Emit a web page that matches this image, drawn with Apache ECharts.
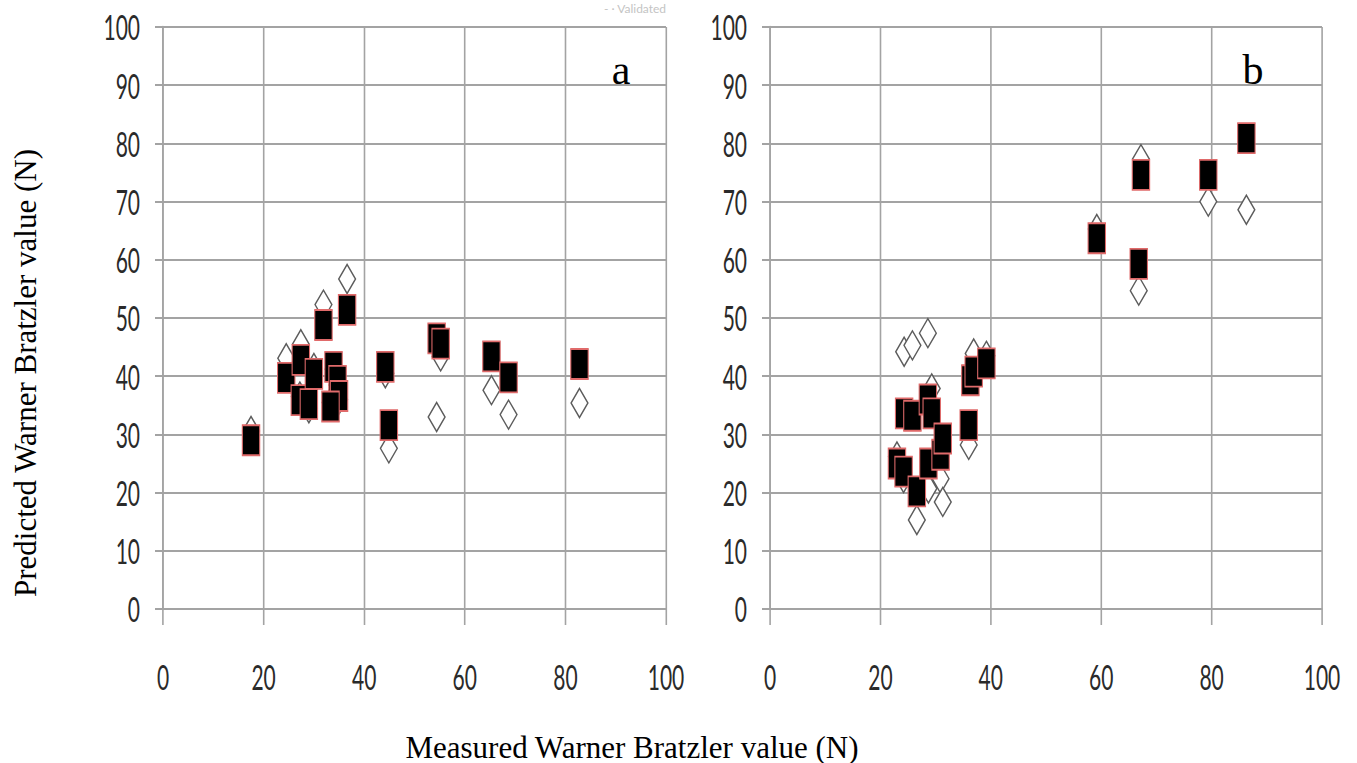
<!DOCTYPE html>
<html>
<head>
<meta charset="utf-8">
<title>Warner Bratzler shear force: measured vs predicted</title>
<script src="https://cdn.jsdelivr.net/npm/echarts@6/dist/echarts.min.js"></script>
<style>
  html, body { margin: 0; padding: 0; background: #fff; overflow: hidden; }
  #wrap { position: relative; width: 1357px; height: 763px; overflow: hidden; }
  #plots { position: absolute; left: 0; top: 0; height: 763px; transform-origin: 0 0; }
  #labels { position: absolute; left: 0; top: 0; width: 1357px; height: 763px; pointer-events: none; }
</style>
</head>
<body>
<div id="wrap">
  <div id="plots"></div>
  <div id="labels"></div>
</div>
<script>
// Panel a: measured WBS value and the two model predictions (N)
const measuredA   = [17.5, 24.5, 27.4, 27.2, 29.0, 30.0, 33.9, 34.7, 35.0, 33.3, 31.9, 36.6, 44.2, 44.9, 54.4, 55.2, 65.3, 68.7, 82.8];
const calibratedA = [29.0, 39.7, 42.8, 35.9, 35.2, 40.4, 41.6, 39.2, 36.6, 34.8, 48.8, 51.4, 41.6, 31.6, 46.5, 45.6, 43.4, 39.8, 42.1];
const validatedA  = [30.6, 43.1, 45.5, 36.5, 34.5, 41.4, 41.2, 38.5, 36.0, 35.5, 52.3, 56.7, 40.5, 27.6, 33.0, 43.4, 37.6, 33.4, 35.4];

// Panel b
const measuredB   = [23.0, 24.2, 24.3, 25.8, 26.6, 28.6, 29.3, 28.7, 30.9, 31.3, 36.0, 36.3, 36.9, 39.2, 59.2, 66.8, 67.2, 79.4, 86.3];
const calibratedB = [25.0, 23.6, 33.6, 33.2, 20.2, 36.0, 33.6, 25.0, 26.5, 29.3, 31.6, 39.3, 40.8, 42.2, 63.7, 59.3, 74.6, 74.6, 80.9];
const validatedB  = [26.2, 22.5, 44.2, 45.3, 15.3, 47.4, 37.9, 20.7, 22.4, 18.4, 28.2, 40.5, 43.9, 43.5, 65.3, 54.7, 77.3, 70.0, 68.6];

// Axis ranges and tick steps
const xRange = [0, 100], xStep = 20;
const yRange = [0, 100], yStep = 10;

const panelLetters = ['a', 'b'];
const xTitle = 'Measured Warner Bratzler value (N)';
const yTitle = 'Predicted Warner Bratzler value (N)';
const legendText = '- · Validated';

// The plot layer is laid out wide and squeezed horizontally
const SQUEEZE = 0.6;
const W = 1357, H = 763;
const plotsEl = document.getElementById('plots');
plotsEl.style.width = (W / SQUEEZE) + 'px';
plotsEl.style.transform = 'scaleX(' + SQUEEZE + ')';
const sx = v => v / SQUEEZE;

const GRID_COLOR = '#a3a3a3';
const LABEL_FONT = 'Lato, "Open Sans", sans-serif';

function pairs(xs, ys) { return xs.map((x, i) => [x, ys[i]]); }

function xAxisFor(idx) {
  return {
    type: 'value', gridIndex: idx, min: xRange[0], max: xRange[1], interval: xStep,
    axisLine: { show: true, onZero: false, lineStyle: { color: GRID_COLOR, width: 2 } },
    axisTick: { show: true, length: 16, lineStyle: { color: GRID_COLOR, width: sx(1.6) } },
    axisLabel: { margin: 50, fontSize: 35, color: '#2a2a2a', fontFamily: LABEL_FONT },
    splitLine: { show: true, lineStyle: { color: GRID_COLOR, width: sx(1.6) } }
  };
}
function yAxisFor(idx) {
  return {
    type: 'value', gridIndex: idx, min: yRange[0], max: yRange[1], interval: yStep,
    axisLine: { show: true, lineStyle: { color: GRID_COLOR, width: sx(1.6) } },
    axisTick: { show: true, length: sx(8), lineStyle: { color: GRID_COLOR, width: 2 } },
    axisLabel: { margin: sx(23), fontSize: 35, color: '#2a2a2a', fontFamily: LABEL_FONT },
    splitLine: { show: true, lineStyle: { color: GRID_COLOR, width: 2 } }
  };
}

const diamondStyle = { color: '#ffffff', borderColor: '#5c5c5c', borderWidth: 2, opacity: 1 };
const squareStyle  = { color: '#000000', borderColor: '#e06a6a', borderWidth: 1.8, opacity: 1 };

const plots = echarts.init(plotsEl, null, { renderer: 'svg' });
plots.setOption({
  animation: false,
  backgroundColor: 'transparent',
  grid: [
    { left: sx(163), top: 27, width: sx(503), height: 582 },
    { left: sx(770), top: 27, width: sx(552), height: 582 }
  ],
  xAxis: [xAxisFor(0), xAxisFor(1)],
  yAxis: [yAxisFor(0), yAxisFor(1)],
  series: [
    { name: 'Validated', type: 'scatter', xAxisIndex: 0, yAxisIndex: 0, symbol: 'diamond',
      symbolSize: [28, 29], itemStyle: diamondStyle, data: pairs(measuredA, validatedA) },
    { name: 'Calibrated', type: 'scatter', xAxisIndex: 0, yAxisIndex: 0, symbol: 'rect',
      symbolSize: [29, 30], itemStyle: squareStyle, data: pairs(measuredA, calibratedA) },
    { name: 'Validated', type: 'scatter', xAxisIndex: 1, yAxisIndex: 1, symbol: 'diamond',
      symbolSize: [28, 29], itemStyle: diamondStyle, data: pairs(measuredB, validatedB) },
    { name: 'Calibrated', type: 'scatter', xAxisIndex: 1, yAxisIndex: 1, symbol: 'rect',
      symbolSize: [29, 30], itemStyle: squareStyle, data: pairs(measuredB, calibratedB) }
  ]
});

// Serif titles and panel letters, drawn unsqueezed on top
const SERIF = '"Liberation Serif", "Times New Roman", serif';
const labels = echarts.init(document.getElementById('labels'), null, { renderer: 'svg' });
labels.setOption({
  animation: false,
  backgroundColor: 'transparent',
  graphic: [
    { type: 'text', x: 621, y: 70, style: { text: panelLetters[0], font: '42px ' + SERIF, fill: '#000', align: 'center', verticalAlign: 'middle' } },
    { type: 'text', x: 1253, y: 70, style: { text: panelLetters[1], font: '42px ' + SERIF, fill: '#000', align: 'center', verticalAlign: 'middle' } },
    { type: 'text', x: 632, y: 747, style: { text: xTitle, font: '31px ' + SERIF, fill: '#000', align: 'center', verticalAlign: 'middle' } },
    { type: 'text', x: 25, y: 373, rotation: Math.PI / 2, style: { text: yTitle, font: '31px ' + SERIF, fill: '#000', align: 'center', verticalAlign: 'middle' } },
    { type: 'text', x: 635, y: 8, style: { text: legendText, font: '12px ' + LABEL_FONT, fill: '#c4c4c4', align: 'center', verticalAlign: 'middle' } }
  ]
});
</script>
</body>
</html>
